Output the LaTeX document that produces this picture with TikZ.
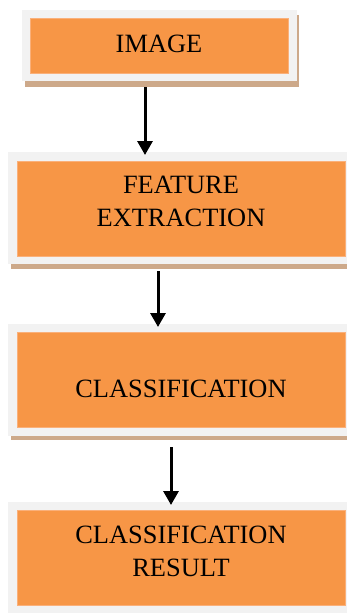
\documentclass[tikz,border=0pt]{standalone}
\usepackage{fontspec}
\setmainfont{Liberation Serif}
\usetikzlibrary{arrows.meta}
\definecolor{boxorange}{HTML}{F79646}
\definecolor{boxedge}{HTML}{FAB07A}
\definecolor{framegrey}{HTML}{F2F2F2}
\definecolor{shadowbrown}{HTML}{CDA98A}
\tikzset{
  stepbox/.style={fill=boxorange, draw=boxedge, line width=0.6pt, inner sep=0pt},
  steptext/.style={align=center, inner sep=0pt, font=\fontsize{26.4}{33}\selectfont},
  framebox/.style={fill=framegrey},
  shadowbox/.style={fill=shadowbrown},
  flowarrow/.style={line width=3pt, -{Triangle[width=15pt,length=14pt]}}
}
\begin{document}
\begin{tikzpicture}[x=1pt,y=-1pt]
\useasboundingbox (0,0) rectangle (347,613);
% box 1
\fill[shadowbox] (25,15) rectangle (299,87);
\fill[framebox] (22,10) rectangle (297,81);
\node[stepbox, minimum width=258pt, minimum height=55pt] (image) at (159,45.5) {};
\node[steptext] (imagetext) at (159,43.5) {IMAGE};
% box 2
\fill[shadowbox] (11,160) rectangle (347,269);
\fill[framebox] (8,152) rectangle (347,264);
\node[stepbox, minimum width=328pt, minimum height=95pt] (feat) at (181,208.5) {};
\node[steptext] (feattext) at (181,201) {FEATURE\\EXTRACTION};
% box 3
\fill[shadowbox] (11,330) rectangle (347,440);
\fill[framebox] (8,324) rectangle (347,436);
\node[stepbox, minimum width=328pt, minimum height=95pt] (cls) at (181,379.5) {};
\node[steptext] (clstext) at (181,389) {CLASSIFICATION};
% box 4
\fill[framebox] (8,502) rectangle (347,613);
\node[stepbox, minimum width=328pt, minimum height=95pt] (res) at (181,557.5) {};
\node[steptext] (restext) at (181,551) {CLASSIFICATION\\RESULT};
% arrow end points
\coordinate (a1s) at (145,87);
\coordinate (a1e) at (145,155);
\coordinate (a2s) at (158,271);
\coordinate (a2e) at (158,327);
\coordinate (a3s) at (171,447);
\coordinate (a3e) at (171,505);
\draw[flowarrow] (a1s) -- (a1e);
\draw[flowarrow] (a2s) -- (a2e);
\draw[flowarrow] (a3s) -- (a3e);
\end{tikzpicture}
\end{document}
